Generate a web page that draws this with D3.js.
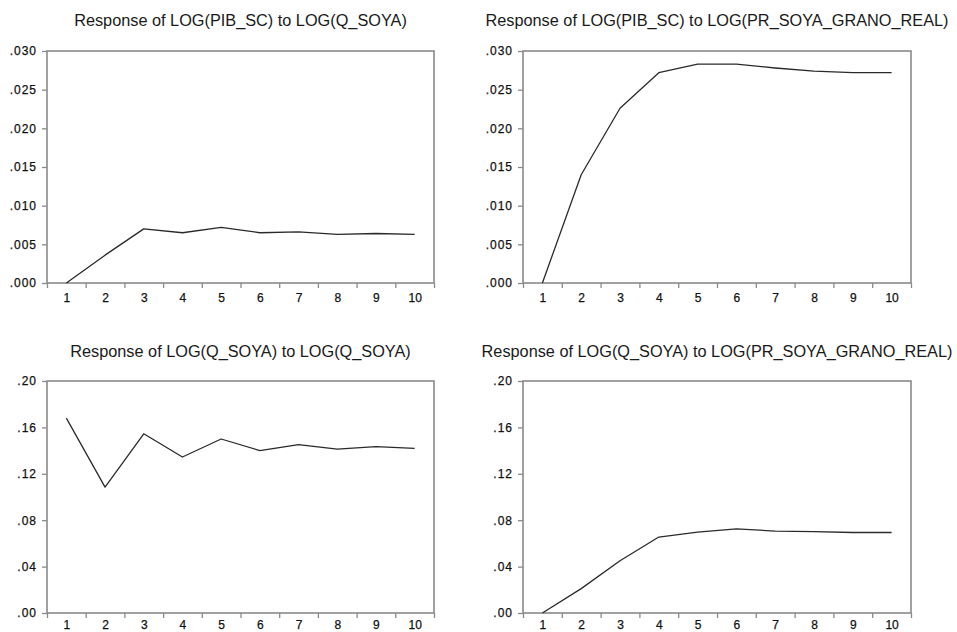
<!DOCTYPE html>
<html>
<head>
<meta charset="utf-8">
<script src="https://cdn.jsdelivr.net/npm/d3@7"></script>
<style>
  html, body { margin: 0; padding: 0; background: #fff; }
  svg { display: block; }
  .title { font-family: "Liberation Sans", Arial, sans-serif; font-size: 16.3px; fill: #1a1a1a; }
  .tick text { font-family: "Liberation Sans", Arial, sans-serif; font-size: 12px; fill: #111; stroke: #111; stroke-width: 0.25px; }
</style>
</head>
<body>
<svg id="chart" width="957" height="632"></svg>
<script>
// Impulse responses over 10 periods
const periods = [1, 2, 3, 4, 5, 6, 7, 8, 9, 10];

const respPibToQsoya    = [0.0000, 0.0036, 0.0070, 0.0065, 0.0072, 0.0065, 0.0066, 0.0063, 0.0064, 0.0063];
const respPibToPrice    = [0.0000, 0.0140, 0.0226, 0.0272, 0.0283, 0.0283, 0.0278, 0.0274, 0.0272, 0.0272];
const respQsoyaToQsoya  = [0.168, 0.1085, 0.1545, 0.1345, 0.150, 0.140, 0.1452, 0.1412, 0.1435, 0.1420];
const respQsoyaToPrice  = [0.000, 0.021, 0.045, 0.0655, 0.0698, 0.0726, 0.0706, 0.0702, 0.0694, 0.0694];

const titles = [
  "Response of LOG(PIB_SC) to LOG(Q_SOYA)",
  "Response of LOG(PIB_SC) to LOG(PR_SOYA_GRANO_REAL)",
  "Response of LOG(Q_SOYA) to LOG(Q_SOYA)",
  "Response of LOG(Q_SOYA) to LOG(PR_SOYA_GRANO_REAL)"
];

const yTicksPib   = [0, 0.005, 0.010, 0.015, 0.020, 0.025, 0.030];
const yTicksQsoya = [0, 0.04, 0.08, 0.12, 0.16, 0.20];

const svg = d3.select("#chart");

const fmt3 = v => d3.format(".3f")(v).replace(/^0/, "");
const fmt2 = v => d3.format(".2f")(v).replace(/^0/, "");

const panels = [
  { title: titles[0], values: respPibToQsoya,   ticks: yTicksPib,   fmt: fmt3, box: { x0: 47,  x1: 434, y0: 51,  y1: 283 }, titleY: 26,  labelPad: 10 },
  { title: titles[1], values: respPibToPrice,   ticks: yTicksPib,   fmt: fmt3, box: { x0: 523, x1: 911, y0: 51,  y1: 283 }, titleY: 26,  labelPad: 10 },
  { title: titles[2], values: respQsoyaToQsoya, ticks: yTicksQsoya, fmt: fmt2, box: { x0: 47,  x1: 434, y0: 381, y1: 613 }, titleY: 357, labelPad: 7 },
  { title: titles[3], values: respQsoyaToPrice, ticks: yTicksQsoya, fmt: fmt2, box: { x0: 523, x1: 911, y0: 381, y1: 613 }, titleY: 357, labelPad: 7 }
];

panels.forEach(p => {
  const b = p.box;
  const g = svg.append("g");

  const x = d3.scaleLinear().domain([0.5, periods.length + 0.5]).range([b.x0, b.x1]);
  const y = d3.scaleLinear().domain([p.ticks[0], p.ticks[p.ticks.length - 1]]).range([b.y1, b.y0]);

  // Title
  g.append("text")
    .attr("class", "title")
    .attr("x", (b.x0 + b.x1) / 2)
    .attr("y", p.titleY)
    .attr("text-anchor", "middle")
    .text(p.title);

  // Left axis
  const yAxis = g.append("g")
    .attr("transform", `translate(${b.x0},0)`)
    .call(d3.axisLeft(y).tickValues(p.ticks).tickFormat(p.fmt).tickSize(5).tickPadding(5));
  yAxis.select(".domain").remove();
  yAxis.selectAll(".tick line").attr("stroke", "#8a8a8a").attr("stroke-width", 1.3);
  yAxis.selectAll(".tick text").attr("letter-spacing", "1px");

  // Bottom axis: ticks on period boundaries
  const boundaries = d3.range(0.5, periods.length + 1, 1);
  const xTicks = g.append("g")
    .attr("transform", `translate(0,${b.y1})`)
    .call(d3.axisBottom(x).tickValues(boundaries).tickFormat("").tickSize(5));
  xTicks.select(".domain").remove();
  xTicks.selectAll(".tick line").attr("stroke", "#8a8a8a").attr("stroke-width", 1.3);

  // Bottom axis: period labels centred in each period
  const xLabels = g.append("g")
    .attr("transform", `translate(0,${b.y1})`)
    .call(d3.axisBottom(x).tickValues(periods).tickFormat(d3.format("d")).tickSize(0).tickPadding(p.labelPad));
  xLabels.select(".domain").remove();

  // Frame
  g.append("rect")
    .attr("x", b.x0).attr("y", b.y0)
    .attr("width", b.x1 - b.x0).attr("height", b.y1 - b.y0)
    .attr("fill", "none")
    .attr("stroke", "#8a8a8a")
    .attr("stroke-width", 1.6);

  // Response line
  const line = d3.line()
    .x((d, i) => x(periods[i]))
    .y(d => y(d));

  g.append("path")
    .datum(p.values)
    .attr("d", line)
    .attr("fill", "none")
    .attr("stroke", "#2a2a2a")
    .attr("stroke-width", 1.3)
    .attr("stroke-linejoin", "round");
});
</script>
</body>
</html>
